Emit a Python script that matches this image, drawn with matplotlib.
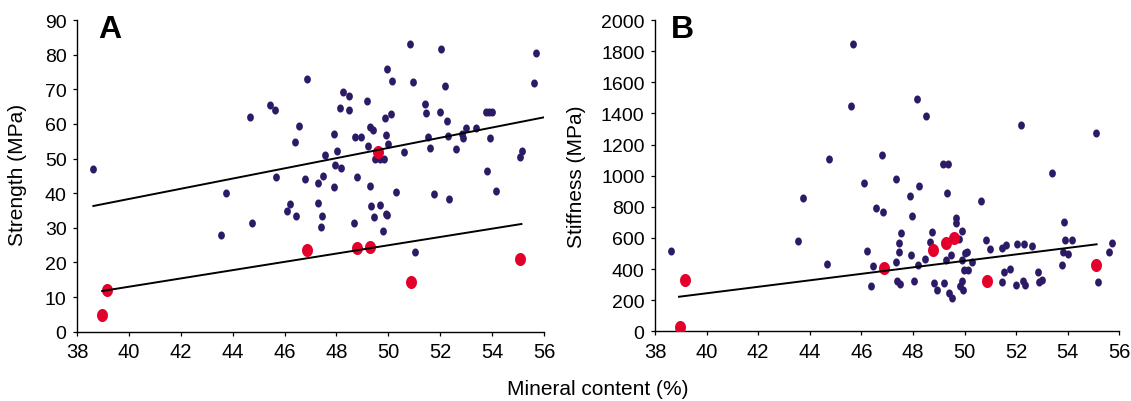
import matplotlib.pyplot as plt
from matplotlib.markers import MarkerStyle
from matplotlib.path import Path
import numpy as np

plt.rcParams['font.family'] = ['Liberation Sans', 'DejaVu Sans']

# --- panel A: strength vs mineral content ---
a_blue_x = [38.63, 44.68, 45.45, 45.62, 46.86, 46.57, 46.39, 45.68, 43.74, 46.80,
            47.28, 46.22, 46.10, 46.46, 44.76, 43.56, 47.28, 47.46, 47.40, 50.82,
            52.03, 55.70, 49.93, 50.14, 50.96, 52.18, 55.60, 48.25, 48.50, 48.15,
            48.48, 49.16, 51.42, 51.44, 51.99, 53.77, 53.88, 54.01, 49.88, 50.09,
            49.30, 49.40, 52.26, 53.00, 53.39, 47.90, 48.72, 48.93, 49.91, 51.53,
            52.30, 52.85, 52.88, 53.91, 49.20, 50.00, 48.04, 47.54, 51.61, 52.62,
            50.61, 49.49, 49.69, 49.83, 55.16, 55.07, 47.95, 48.19, 47.47, 48.81,
            53.82, 47.92, 49.31, 50.28, 51.76, 52.35, 54.15, 49.34, 49.69, 49.46,
            49.91, 49.96, 48.67, 49.80, 51.01]
a_blue_y = [47.0, 62.1, 65.5, 64.0, 73.1, 59.4, 54.9, 44.6, 40.0, 44.0,
            43.0, 36.8, 34.8, 33.4, 31.3, 28.0, 37.3, 33.4, 30.1, 83.1,
            81.5, 80.5, 75.9, 72.4, 72.2, 70.9, 71.8, 69.1, 68.2, 64.7,
            64.0, 66.7, 65.8, 63.2, 63.4, 63.5, 63.5, 63.5, 61.8, 62.8,
            59.1, 58.2, 60.8, 58.9, 58.9, 57.1, 56.2, 56.2, 56.9, 56.2,
            56.6, 57.1, 56.0, 56.0, 53.6, 54.1, 52.2, 51.1, 53.1, 52.8,
            51.8, 49.8, 49.8, 49.8, 52.3, 50.4, 48.0, 47.2, 44.9, 44.8,
            46.5, 41.7, 42.2, 40.3, 39.8, 38.4, 40.6, 36.2, 36.5, 33.0,
            33.9, 33.6, 31.5, 29.1, 23.1]
a_red_x = [38.97, 39.17, 46.87, 48.80, 49.29, 49.60, 50.88, 55.08]
a_red_y = [4.8, 12.0, 23.7, 24.1, 24.5, 51.8, 14.4, 21.0]
# trend lines (x start, x end, y start, y end)
a_line_upper = ([38.63, 56.0], [36.3, 61.9])
a_line_lower = ([38.97, 55.13], [11.75, 31.1])

# --- panel B: stiffness vs mineral content ---
b_blue_x = [38.62, 45.69, 45.61, 44.74, 46.10, 43.74, 46.58, 43.55, 46.23, 44.68,
            46.45, 46.38, 46.80, 48.16, 48.50, 52.20, 55.08, 49.15, 49.34, 53.40,
            47.33, 48.24, 49.32, 47.90, 50.62, 46.85, 47.95, 53.86, 49.67, 49.68,
            49.91, 47.53, 48.72, 49.79, 48.67, 47.46, 50.83, 51.00, 51.44, 51.59,
            52.03, 52.31, 52.62, 53.90, 54.16, 55.72, 55.62, 53.81, 54.03, 53.78,
            55.17, 47.47, 47.33, 47.93, 48.21, 48.48, 48.04, 47.39, 47.50, 48.83,
            48.93, 49.21, 49.38, 49.50, 49.29, 49.46, 49.90, 50.02, 50.10, 50.29,
            49.98, 50.14, 49.90, 49.82, 49.93, 51.44, 51.53, 51.76, 51.98, 52.26,
            52.34, 52.83, 52.90, 53.00]
b_blue_y = [518, 1843, 1449, 1105, 951, 858, 790, 582, 514, 434,
            419, 293, 1130, 1492, 1381, 1327, 1272, 1077, 1072, 1019,
            978, 935, 886, 869, 835, 766, 740, 702, 730, 696,
            644, 629, 636, 595, 575, 565, 586, 531, 533, 552,
            559, 563, 546, 588, 588, 565, 511, 511, 494, 428,
            317, 507, 443, 492, 426, 464, 325, 321, 306, 310,
            263, 310, 246, 216, 460, 490, 456, 503, 507, 443,
            396, 396, 323, 289, 267, 315, 383, 400, 297, 323,
            299, 381, 319, 329]
b_red_x = [38.96, 39.16, 46.86, 48.76, 49.28, 49.59, 50.87, 55.08]
b_red_y = [26, 330, 405, 524, 567, 597, 323, 428]
b_line = ([38.93, 55.12], [222, 559])

x_ticks = list(range(38, 57, 2))

BLUE = '#2d1a66'
RED = '#e4002b'

# slightly tall ellipse marker like the original
t = np.linspace(0, 2 * np.pi, 40)
ell = MarkerStyle(Path(np.column_stack([0.42 * np.cos(t), 0.5 * np.sin(t)])))

fig = plt.figure(figsize=(11.31, 4.02), dpi=100)
axA = fig.add_axes([77 / 1131, 69.3 / 402, 467 / 1131, 311.7 / 402])
axB = fig.add_axes([655 / 1131, 69.7 / 402, 464.3 / 1131, 311.3 / 402])


def style(ax, ymax, ystep):
    ax.set_xlim(38, 56)
    ax.set_ylim(0, ymax)
    ax.set_xticks(x_ticks)
    ax.set_yticks(np.arange(0, ymax + 1, ystep))
    for s in ['top', 'right']:
        ax.spines[s].set_visible(False)
    for s in ['left', 'bottom']:
        ax.spines[s].set_linewidth(1.0)
    ax.tick_params(direction='out', length=3, width=0.9, pad=4.5)
    ax.tick_params(axis='x', labelsize=14.5)
    ax.tick_params(axis='y', labelsize=14)


# panel A
axA.plot(a_blue_x, a_blue_y, linestyle='none', marker=ell, ms=5.8,
         color=BLUE, mec='none', zorder=3)
axA.plot(a_red_x, a_red_y, linestyle='none', marker=ell, ms=9.4,
         color=RED, mec='none', zorder=4)
axA.plot(*a_line_upper, color='black', lw=1.4, zorder=5)
axA.plot(*a_line_lower, color='black', lw=1.4, zorder=5)
style(axA, 90, 10)

# panel B
axB.plot(b_blue_x, b_blue_y, linestyle='none', marker=ell, ms=5.8,
         color=BLUE, mec='none', zorder=3)
axB.plot(b_red_x, b_red_y, linestyle='none', marker=ell, ms=9.4,
         color=RED, mec='none', zorder=4)
axB.plot(*b_line, color='black', lw=1.4, zorder=5)
style(axB, 2000, 200)

# labels
fig.text(18 / 1131, 1 - 175 / 402, 'Strength (MPa)', rotation=90,
         ha='center', va='center', fontsize=15)
fig.text(576 / 1131, 1 - 177 / 402, 'Stiffness (MPa)', rotation=90,
         ha='center', va='center', fontsize=15)
fig.text(598 / 1131, 1 - 390 / 402, 'Mineral content (%)',
         ha='center', va='center', fontsize=15)
fig.text(98 / 1131, 1 - 38 / 402, 'A', fontsize=23, fontweight='bold',
         ha='left', va='baseline')
fig.text(671 / 1131, 1 - 38 / 402, 'B', fontsize=23, fontweight='bold',
         ha='left', va='baseline')

fig.savefig('out.png', dpi=100)
